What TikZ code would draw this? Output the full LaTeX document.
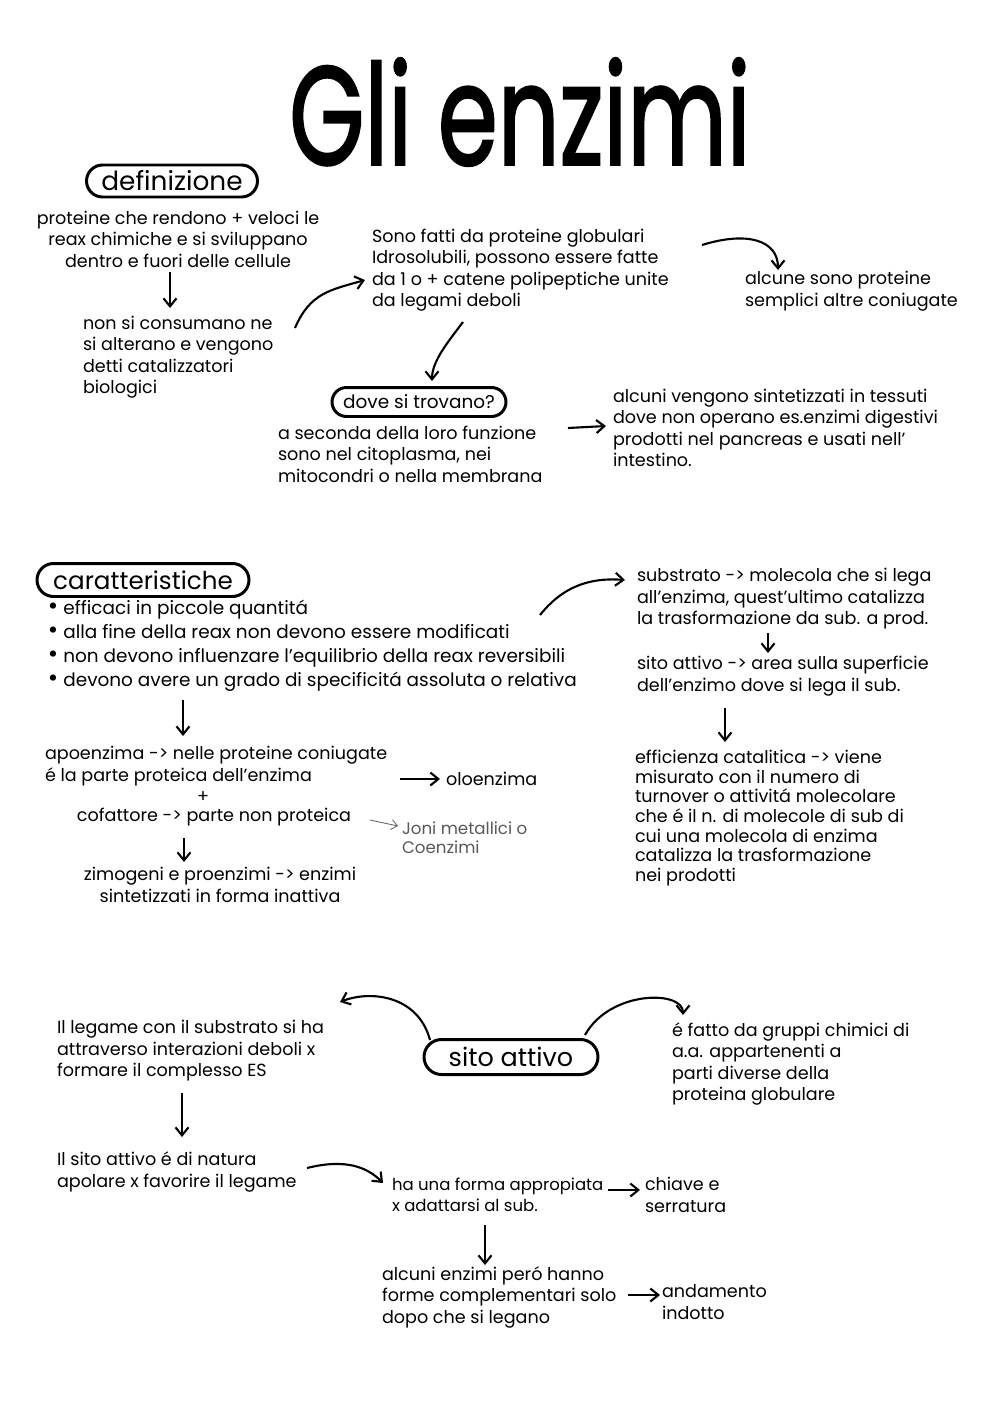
\documentclass[tikz,border=0pt]{standalone}
\usepackage{fontspec}
\usepackage{graphicx}
\setmainfont{Poppins}
\usetikzlibrary{positioning, arrows.meta, shapes.misc}

\begin{document}
\begin{tikzpicture}[x=0.02cm,y=-0.02cm,
    every node/.style={inner sep=0pt,outer sep=0pt},
    note/.style={align=left,font=\fontsize{10}{12.2}\selectfont},
    pill/.style={draw,line width=1.7pt,rounded rectangle,font=\fontsize{14}{16}\selectfont},
    arr/.style={-{Straight Barb[length=1.6mm,width=2.6mm]},line width=1.2pt},
    thin/.style={-{Straight Barb[length=1.2mm,width=2mm]},line width=0.5pt,black!60}]
    \useasboundingbox[fill=white] (0,0) rectangle (1000,1413);
    % titolo
    \node (titolo) at (520,112) {\scalebox{1}[1.45]{\fontsize{55}{55}\selectfont\addfontfeature{FakeBold=1.8}Gli enzimi}};

    % definizione
    \node[pill,minimum width=3.42cm,minimum height=0.64cm,font=\fontsize{15}{17}\selectfont] (def) at (172,181) {definizione};
    \node[note,align=center] (def1) at (178,239) {proteine che rendono + veloci le\\reax chimiche e si sviluppano\\dentro e fuori delle cellule};
    \node[note,anchor=west] (def2) at (83,357) {non si consumano ne\\si alterano e vengono\\detti catalizzatori\\biologici};
    \node[note,anchor=west] (glob) at (372,270) {Sono fatti da proteine globulari\\Idrosolubili, possono essere fatte\\da 1 o + catene polipeptiche unite\\da legami deboli};
    \node[note,anchor=west] (semp) at (745,291) {alcune sono proteine\\semplici altre coniugate};
    \node[pill,minimum width=3.48cm,minimum height=0.58cm,font=\fontsize{10.5}{12}\selectfont] (dove) at (419,402) {dove si trovano?};
    \node[note,anchor=west] (seconda) at (278,454) {a seconda della loro funzione\\sono nel citoplasma, nei\\mitocondri o nella membrana};
    \node[note,anchor=west] (tessuti) at (613,428) {alcuni vengono sintetizzati in tessuti\\dove non operano es.enzimi digestivi\\prodotti nel pancreas e usati nell'\\intestino.};

    \draw[arr] ([shift={(-8,33)}]def1.center) -- ([shift={(87,-49)}]def2.west);
    \draw[arr] ([shift={(212,-29)}]def2.west) .. controls +(15,-35) and +(-35,10) .. ([shift={(-7,10)}]glob.west);
    \draw[arr] ([shift={(330,-25)}]glob.west) .. controls +(45,-14) and +(0,-30) .. ([shift={(33,-21)}]semp.west);
    \draw[arr] ([shift={(91,52)}]glob.west) .. controls +(-15,20) and +(0,-20) .. ([shift={(13,-21)}]dove.center);
    \draw[arr] ([shift={(290,-26)}]seconda.west) -- ([shift={(-7,-2)}]tessuti.west);

    % caratteristiche
    \node[pill,minimum width=4.24cm,minimum height=0.66cm] (car) at (143,580) {caratteristiche};
    \node[note,anchor=west,font=\fontsize{10.5}{13.6}\selectfont] (lista) at (48,646) {{\Large\textbullet}\ efficaci in piccole quantitá\\{\Large\textbullet}\ alla fine della reax non devono essere modificati\\{\Large\textbullet}\ non devono influenzare l'equilibrio della reax reversibili\\{\Large\textbullet}\ devono avere un grado di specificitá assoluta o relativa};
    \node[note,anchor=west] (apo) at (45,766) {apoenzima -> nelle proteine coniugate\\é la parte proteica dell'enzima};
    \node[note] (piu) at (203,797) {+};
    \node[note] (cof) at (214,817) {cofattore -> parte non proteica};
    \node[note,anchor=west] (olo) at (446,779) {oloenzima};
    \node[note,anchor=west,text=black!65,font=\fontsize{9.5}{11}\selectfont] (ioni) at (402,838) {Joni metallici o\\Coenzimi};
    \node[note,align=center] (zim) at (220,885) {zimogeni e proenzimi -> enzimi\\sintetizzati in forma inattiva};
    \node[note,anchor=west] (sub) at (637,599) {substrato -> molecola che si lega\\all'enzima, quest'ultimo catalizza\\la trasformazione da sub. a prod.};
    \node[note,anchor=west] (sito) at (637,676) {sito attivo -> area sulla superficie\\dell'enzimo dove si lega il sub.};
    \node[note,anchor=west,font=\fontsize{10}{11.2}\selectfont] (eff) at (635,818) {efficienza catalitica -> viene\\misurato con il numero di\\turnover o attivitá molecolare\\che é il n. di molecole di sub di\\cui una molecola di enzima\\catalizza la trasformazione\\nei prodotti};

    \draw[arr] ([shift={(135,54)}]lista.west) -- ([shift={(138,-30)}]apo.west);
    \draw[arr] ([shift={(355,13)}]apo.west) -- ([shift={(-6,0)}]olo.west);
    \draw[thin] ([shift={(156,3)}]cof.center) -- ([shift={(-4,-12)}]ioni.west);
    \draw[arr] ([shift={(-30,21)}]cof.center) -- ([shift={(-36,-23)}]zim.center);
    \draw[arr] ([shift={(492,-31)}]lista.west) .. controls +(20,-25) and +(-40,-3) .. ([shift={(-12,-19)}]sub.west);
    \draw[arr] ([shift={(131,34)}]sub.west) -- ([shift={(131,-23)}]sito.west);
    \draw[arr] ([shift={(88,32)}]sito.west) -- ([shift={(90,-76)}]eff.west);

    % sito attivo
    \node[pill,minimum width=3.48cm,minimum height=0.7cm,font=\fontsize{14.5}{16}\selectfont] (sa) at (511,1057) {sito attivo};
    \node[note,anchor=west] (legame) at (57,1051) {Il legame con il substrato si ha\\attraverso interazioni deboli x\\formare il complesso ES};
    \node[note,anchor=west] (gruppi) at (672,1064) {é fatto da gruppi chimici di\\a.a. appartenenti a\\parti diverse della\\proteina globulare};
    \node[note,anchor=west] (apolare) at (57,1172) {Il sito attivo é di natura\\apolare x favorire il legame};
    \node[note,anchor=west,font=\fontsize{9.4}{12.2}\selectfont] (forma) at (392,1195) {ha una forma appropiata\\x adattarsi al sub.};
    \node[note,anchor=west] (chiave) at (645,1195) {chiave e\\serratura};
    \node[note,anchor=west] (compl) at (382,1297) {alcuni enzimi peró hanno\\forme complementari solo\\dopo che si legano};
    \node[note,anchor=west] (indotto) at (662,1302) {andamento\\indotto};

    \draw[arr] ([shift={(-81,-17)}]sa.center) .. controls +(-12,-45) and +(30,-12) .. ([shift={(283,-49)}]legame.west);
    \draw[arr] ([shift={(74,-22)}]sa.center) .. controls +(25,-45) and +(0,-25) .. ([shift={(11,-49)}]gruppi.west);
    \draw[arr] ([shift={(125,42)}]legame.west) -- ([shift={(125,-35)}]apolare.west);
    \draw[arr] ([shift={(250,-4)}]apolare.west) .. controls +(40,-10) and +(-15,-15) .. ([shift={(-9,-12)}]forma.west);
    \draw[arr] ([shift={(216,-5)}]forma.west) -- ([shift={(-5,-5)}]chiave.west);
    \draw[arr] ([shift={(93,30)}]forma.west) -- ([shift={(103,-32)}]compl.west);
    \draw[arr] ([shift={(246,-2)}]compl.west) -- ([shift={(-2,-7)}]indotto.west);
\end{tikzpicture}
\end{document}
